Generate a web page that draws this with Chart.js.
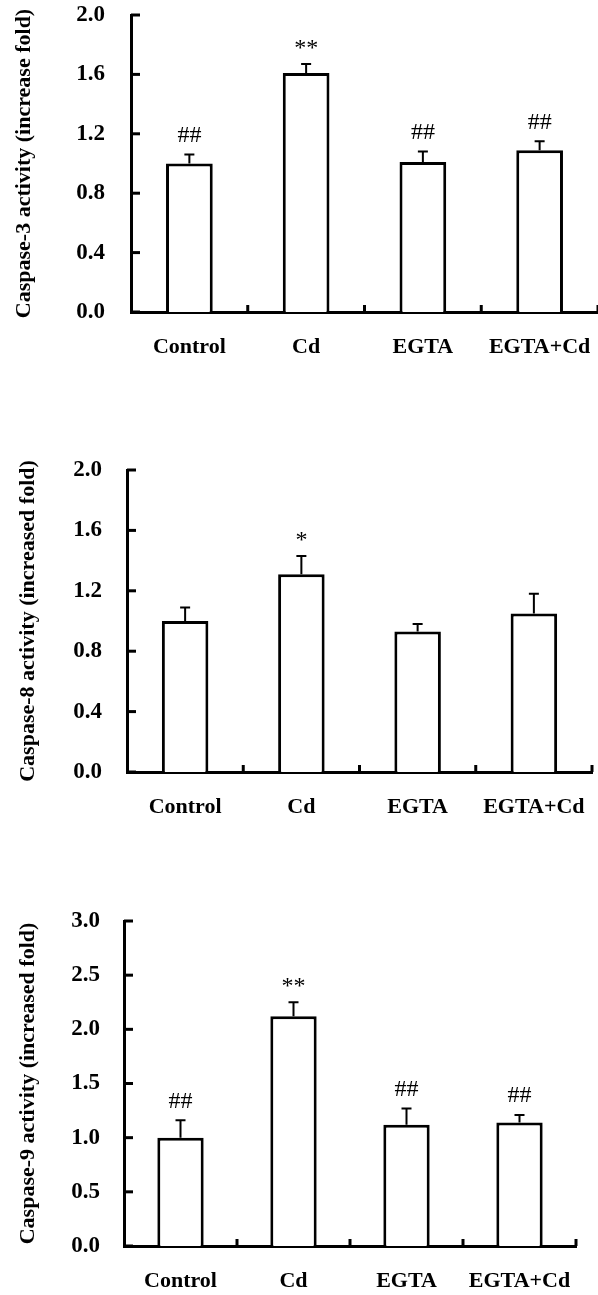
<!DOCTYPE html>
<html lang="en">
<head>
<meta charset="UTF-8">
<title>Caspase activity</title>
<script src="https://cdn.jsdelivr.net/npm/chart.js"></script>
<style>
  html, body { margin: 0; padding: 0; background: #fff; }
  body { width: 598px; height: 1295px; position: relative; overflow: hidden; }
  .panel { position: absolute; left: 0; width: 598px; }
</style>
</head>
<body>
<div class="panel" style="top:0;height:380px"><canvas id="casp3Chart"></canvas></div>
<div class="panel" style="top:430px;height:400px"><canvas id="casp8Chart"></canvas></div>
<div class="panel" style="top:880px;height:415px"><canvas id="casp9Chart"></canvas></div>
<script>
// categories
const groups = ['Control', 'Cd', 'EGTA', 'EGTA+Cd'];

// caspase-3
const casp3 = [1.00, 1.61, 1.01, 1.09];
const casp3Err = [0.06, 0.06, 0.07, 0.06];
const casp3Marks = ['##', '**', '##', '##'];
const casp3Ticks = [0, 0.4, 0.8, 1.2, 1.6, 2.0];

// caspase-8
const casp8 = [1.00, 1.31, 0.93, 1.05];
const casp8Err = [0.09, 0.12, 0.05, 0.13];
const casp8Marks = ['', '*', '', ''];
const casp8Ticks = [0, 0.4, 0.8, 1.2, 1.6, 2.0];

// caspase-9
const casp9 = [1.00, 2.12, 1.12, 1.14];
const casp9Err = [0.16, 0.13, 0.15, 0.07];
const casp9Marks = ['##', '**', '##', '##'];
const casp9Ticks = [0, 0.5, 1.0, 1.5, 2.0, 2.5, 3.0];

const serif = '"Liberation Serif", "Times New Roman", serif';

// inward ticks, error bars and significance marks
const extrasPlugin = {
    id: 'extras',
    afterDatasetsDraw(chart) {
        const ctx = chart.ctx;
        const area = chart.chartArea;
        const xs = chart.scales.x;
        const ys = chart.scales.y;
        const ds = chart.data.datasets[0];
        ctx.save();
        ctx.strokeStyle = '#000';
        ctx.lineCap = 'butt';

        // y ticks pointing right
        ctx.lineWidth = 3;
        ys.ticks.forEach(function (t) {
            const y = ys.getPixelForValue(t.value);
            ctx.beginPath();
            ctx.moveTo(area.left, y);
            ctx.lineTo(area.left + 9, y);
            ctx.stroke();
        });

        // x ticks between groups, pointing up
        for (let i = 0; i < groups.length; i++) {
            const x = xs.getPixelForValue(i + 0.5);
            ctx.beginPath();
            ctx.moveTo(x, area.bottom);
            ctx.lineTo(x, area.bottom - 7);
            ctx.stroke();
        }

        // error bars (upper only)
        ctx.lineWidth = 2;
        ds.data.forEach(function (v, i) {
            const x = xs.getPixelForValue(i);
            const yBar = ys.getPixelForValue(v);
            const yTop = ys.getPixelForValue(v + ds.errors[i]);
            ctx.beginPath();
            ctx.moveTo(x, yBar);
            ctx.lineTo(x, yTop);
            ctx.moveTo(x - 5, yTop);
            ctx.lineTo(x + 5, yTop);
            ctx.stroke();

            const mark = ds.marks[i];
            if (mark) {
                ctx.font = '24px ' + serif;
                ctx.fillStyle = '#000';
                ctx.textAlign = 'center';
                ctx.textBaseline = 'alphabetic';
                const m = ctx.measureText(mark);
                const cy = yTop - 20;
                ctx.fillText(mark, x, cy + (m.actualBoundingBoxAscent - m.actualBoundingBoxDescent) / 2);
            }
        });
        ctx.restore();
    }
};

function makeChart(id, cfg) {
    const font = { family: serif, size: 22, weight: 'bold' };
    const tickFont = { family: serif, size: 23, weight: 'bold' };
    return new Chart(document.getElementById(id), {
        type: 'bar',
        data: {
            labels: groups,
            datasets: [{
                data: cfg.values,
                errors: cfg.errors,
                marks: cfg.marks,
                backgroundColor: '#fff',
                borderColor: '#000',
                borderWidth: 3,
                barPercentage: cfg.barPct,
                categoryPercentage: 1
            }]
        },
        options: {
            responsive: true,
            maintainAspectRatio: false,
            animation: false,
            layout: { padding: { top: cfg.top, right: cfg.right, bottom: 0, left: 0 } },
            plugins: { legend: { display: false }, tooltip: { enabled: false } },
            scales: {
                x: {
                    grid: { display: false, drawTicks: false },
                    border: { display: true, color: '#000', width: 3 },
                    ticks: { color: '#000', font: font, padding: 22, maxRotation: 0, autoSkip: false },
                    afterFit: function (s) {
                        s.height = cfg.xH;
                        s.paddingLeft = 0;
                        s.paddingRight = 0;
                    }
                },
                y: {
                    min: 0,
                    max: cfg.ticks[cfg.ticks.length - 1],
                    grid: { display: false, drawTicks: false },
                    border: { display: true, color: '#000', width: 3 },
                    afterBuildTicks: function (s) { s.ticks = cfg.ticks.map(v => ({ value: v })); },
                    ticks: {
                        color: '#000', font: tickFont, padding: cfg.yPad,
                        callback: v => v.toFixed(1)
                    },
                    title: {
                        display: true, text: cfg.title, color: '#000', font: font,
                        padding: { top: cfg.titlePad, bottom: 0 }
                    },
                    afterFit: function (s) {
                        s.width = cfg.axisW;
                        s.paddingTop = 0;
                        s.paddingBottom = 0;
                    }
                }
            }
        },
        plugins: [extrasPlugin]
    });
}

makeChart('casp3Chart', {
    values: casp3, errors: casp3Err, marks: casp3Marks, ticks: casp3Ticks,
    title: 'Caspase-3 activity (increase fold)',
    top: 15, right: 0, xH: 68, axisW: 131, yPad: 26, titlePad: 11, barPct: 0.4
});
makeChart('casp8Chart', {
    values: casp8, errors: casp8Err, marks: casp8Marks, ticks: casp8Ticks,
    title: 'Caspase-8 activity (increased fold)',
    top: 40, right: 6, xH: 58, axisW: 127, yPad: 25, titlePad: 15, barPct: 0.4
});
makeChart('casp9Chart', {
    values: casp9, errors: casp9Err, marks: casp9Marks, ticks: casp9Ticks,
    title: 'Caspase-9 activity (increased fold)',
    top: 41, right: 22, xH: 49, axisW: 124, yPad: 24, titlePad: 15, barPct: 0.41
});
</script>
</body>
</html>
